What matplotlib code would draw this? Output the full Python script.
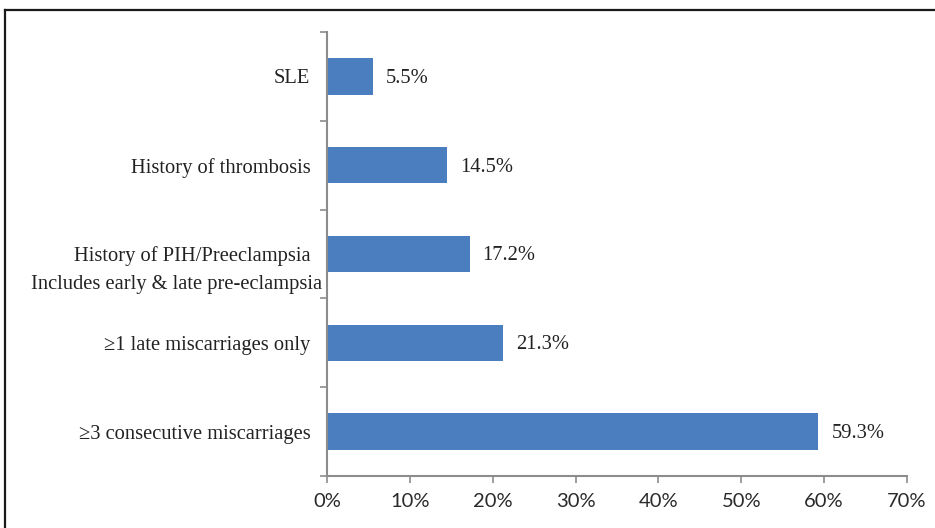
import numpy as np
import matplotlib
matplotlib.use("Agg")
import matplotlib.pyplot as plt
from matplotlib.lines import Line2D
from matplotlib.ticker import PercentFormatter

# data, top to bottom as in the chart
categories = [
    "SLE",
    "History of thrombosis",
    "History of PIH/Preeclampsia",
    "\u22651 late miscarriages only",
    "\u22653 consecutive miscarriages",
]
values = [5.5, 14.5, 17.2, 21.3, 59.3]
note_label = "Includes early & late pre-eclampsia"
note_index = 2
x_ticks = [0, 10, 20, 30, 40, 50, 60, 70]

bar_color = "#4A7EBF"
spine_color = "#8C8C8C"
serif = ["Liberation Serif", "DejaVu Serif"]
sans = ["Lato", "Open Sans", "DejaVu Sans"]
fs = 14.8

fig = plt.figure(figsize=(9.35, 5.28), dpi=100)
ax = fig.add_axes([327 / 935, 1 - 476 / 528, 580 / 935, 444 / 528])

y = np.arange(len(categories))
ax.barh(y, values, height=0.41, color=bar_color)

for yi, v in zip(y, values):
    ax.annotate(f"{v:.1f}%", xy=(v, yi), xytext=(13, -2), textcoords="offset pixels",
                ha="left", va="center", fontsize=fs, family=serif, color="#222222")

ax.set_xlim(0, 70)
ax.set_ylim(len(categories) - 0.5, -0.5)
ax.set_xticks(x_ticks)
ax.xaxis.set_major_formatter(PercentFormatter(decimals=0))
for lab in ax.get_xticklabels():
    lab.set_family(sans)
    lab.set_fontsize(14.5)
    lab.set_color("#2a2a2a")
ax.tick_params(axis="x", length=5, width=1.2, color=spine_color, pad=7)

ax.set_yticks(y)
ax.set_yticklabels(categories, family=serif, fontsize=fs, color="#222222")
ax.tick_params(axis="y", which="major", length=0, pad=12)
ax.set_yticks(np.arange(len(categories) + 1) - 0.5, minor=True)
ax.tick_params(axis="y", which="minor", length=5, width=1.2, color=spine_color)

ax.annotate(note_label, xy=(0, note_index), xytext=(-5, -30), textcoords="offset pixels",
            ha="right", va="center", fontsize=fs, family=serif, color="#222222",
            annotation_clip=False)

for side in ["top", "right"]:
    ax.spines[side].set_visible(False)
for side in ["left", "bottom"]:
    ax.spines[side].set_color(spine_color)
    ax.spines[side].set_linewidth(1.5)

# outer frame (top and left edges)
fig.add_artist(Line2D([5 / 935, 1.0], [1 - 10 / 528, 1 - 10 / 528], color="#1a1a1a", lw=1.6))
fig.add_artist(Line2D([5 / 935, 5 / 935], [0.0, 1 - 10 / 528], color="#1a1a1a", lw=1.6))

fig.savefig("out.png", dpi=100)
